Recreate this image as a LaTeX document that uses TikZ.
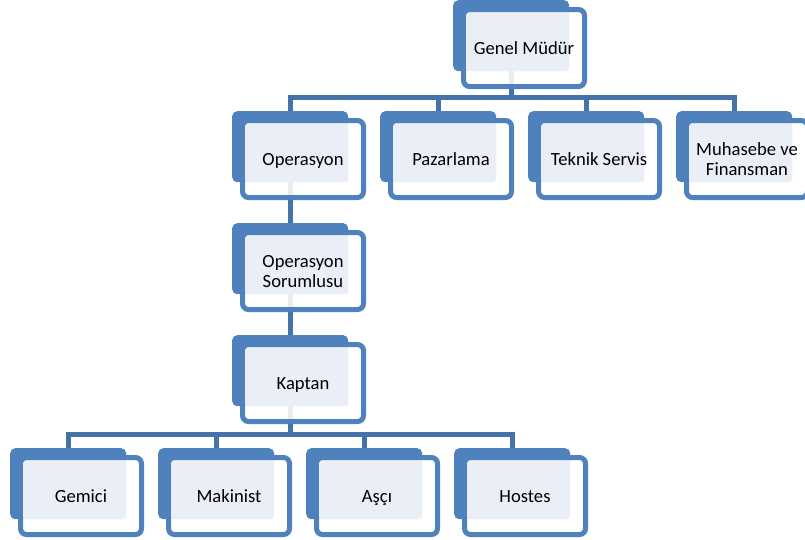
\documentclass[tikz,border=0pt]{standalone}
\usepackage{fontspec}
\setmainfont{Carlito}
\pgfdeclarelayer{bg}
\pgfsetlayers{bg,main}
\definecolor{boxblue}{RGB}{79,129,189}
\definecolor{linkblue}{RGB}{70,114,170}
\definecolor{paleblue}{RGB}{233,238,247}
\tikzset{
  backbox/.style={rectangle, rounded corners=5pt, fill=boxblue, inner sep=0pt,
    minimum width=116pt, minimum height=71pt, anchor=north west},
  frontbox/.style={rectangle, rounded corners=6pt, draw=boxblue, line width=5pt,
    fill=white, fill opacity=0.88, inner sep=0pt, minimum width=121pt, minimum height=77pt},
  lightbox/.style={rectangle, rounded corners=3pt, fill=paleblue, inner sep=0pt,
    minimum width=103pt, minimum height=58pt},
  boxtext/.style={align=center, text=black, inner sep=0pt,
    font=\fontsize{18.6pt}{20pt}\selectfont},
  oneline/.style={text height=12pt, text depth=0pt},
  twoline/.style={text height=32pt, text depth=0pt},
  conn/.style={draw=linkblue, line width=5pt}
}
% one chart entry: back plate, outlined front card, pale text panel, label
\newcommand\orgunit[5][oneline]{%
  \node[backbox] (#2-b) at (#3,#4) {};
  \node[frontbox] (#2-f) at ({#3+71},{#4+48}) {};
  \node[lightbox] (#2-l) at ({#3+64.5},{#4+42}) {};
  \node[boxtext,#1] (#2) at (#2-f.center) {#5};
}
\begin{document}
\begin{tikzpicture}[x=1pt,y=-1pt]
\useasboundingbox (0,0) rectangle (805,539);

\orgunit{gm}{453}{0}{Genel Müdür}
\orgunit{op}{232}{111}{Operasyon}
\orgunit{pz}{380}{111}{Pazarlama}
\orgunit{ts}{528}{111}{Teknik Servis}
\orgunit[twoline]{mf}{676}{111}{Muhasebe ve\\Finansman}
\orgunit[twoline]{os}{232}{223}{Operasyon\\Sorumlusu}
\orgunit{kp}{232}{335}{Kaptan}
\orgunit{gc}{10}{448}{Gemici}
\orgunit{mk}{158}{448}{Makinist}
\orgunit{as}{306}{448}{Aşçı}
\orgunit{hs}{454}{448}{Hostes}

\coordinate (bustop) at (0,97);
\coordinate (busbot) at (0,434);

\begin{pgfonlayer}{bg}
  % upper level
  \draw[conn] (gm-b.south) -- (gm-b.south |- bustop);
  \draw[conn] (op-b.north) -- (op-b.north |- bustop) -- (mf-b.north |- bustop) -- (mf-b.north);
  \draw[conn] (pz-b.north |- bustop) -- (pz-b.north);
  \draw[conn] (ts-b.north |- bustop) -- (ts-b.north);
  % operations chain
  \draw[conn] (op-b.south) -- (os-b.north);
  \draw[conn] (os-b.south) -- (kp-b.north);
  % crew level
  \draw[conn] (kp-b.south) -- (kp-b.south |- busbot);
  \draw[conn] (gc-b.north) -- (gc-b.north |- busbot) -- (hs-b.north |- busbot) -- (hs-b.north);
  \draw[conn] (mk-b.north |- busbot) -- (mk-b.north);
  \draw[conn] (as-b.north |- busbot) -- (as-b.north);
\end{pgfonlayer}
\end{tikzpicture}
\end{document}
